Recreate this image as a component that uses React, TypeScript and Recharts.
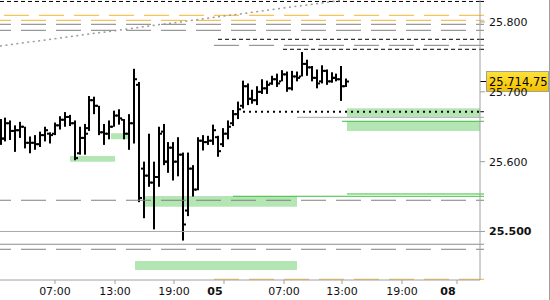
import React from "react";
import { Bar, ComposedChart, ReferenceArea, ReferenceLine, XAxis, YAxis } from "recharts";

// 30-minute bars, oldest first
const opens = [
  25645, 25633, 25655, 25644, 25645, 25650, 25627, 25627, 25625, 25638,
  25640, 25640, 25652, 25660, 25664, 25655, 25612, 25634, 25648, 25688,
  25680, 25642, 25640, 25650, 25666, 25660, 25640, 25655, 25710, 25590,
  25580, 25570, 25578, 25643, 25600, 25620, 25600, 25610, 25530, 25590,
  25560, 25630, 25628, 25630, 25635, 25625, 25640, 25655, 25668, 25680,
  25708, 25690, 25688, 25700, 25705, 25712, 25718, 25715, 25725, 25705,
  25722, 25722, 25740, 25735, 25720, 25715, 25730, 25715, 25720, 25718,
  25708,
];
const highs = [
  25661, 25663, 25659, 25652, 25657, 25650, 25636, 25638, 25643, 25650,
  25642, 25656, 25665, 25671, 25667, 25659, 25650, 25654, 25694, 25693,
  25680, 25654, 25659, 25673, 25675, 25661, 25668, 25733, 25714, 25600,
  25640, 25600, 25650, 25654, 25628, 25628, 25635, 25613, 25613, 25595,
  25635, 25638, 25637, 25653, 25637, 25648, 25659, 25674, 25686, 25716,
  25712, 25703, 25708, 25718, 25716, 25723, 25726, 25731, 25729, 25730,
  25729, 25757, 25746, 25737, 25732, 25738, 25732, 25728, 25726, 25737,
  25719,
];
const lows = [
  25624, 25629, 25631, 25614, 25634, 25619, 25612, 25617, 25621, 25629,
  25626, 25638, 25646, 25650, 25651, 25602, 25610, 25610, 25644, 25668,
  25638, 25624, 25632, 25650, 25653, 25632, 25617, 25626, 25542, 25519,
  25564, 25503, 25564, 25595, 25584, 25573, 25579, 25487, 25522, 25550,
  25559, 25616, 25624, 25624, 25607, 25621, 25632, 25651, 25661, 25676,
  25681, 25683, 25681, 25697, 25697, 25710, 25707, 25715, 25700, 25702,
  25715, 25722, 25723, 25715, 25705, 25712, 25710, 25713, 25715, 25687,
  25707,
];
const closes = [
  25633, 25655, 25644, 25645, 25650, 25627, 25627, 25625, 25638, 25645,
  25638, 25652, 25660, 25664, 25655, 25605, 25634, 25640, 25688, 25680,
  25642, 25640, 25650, 25666, 25662, 25640, 25655, 25718, 25548, 25580,
  25570, 25578, 25640, 25600, 25620, 25600, 25610, 25510, 25590, 25560,
  25630, 25628, 25630, 25645, 25615, 25640, 25650, 25668, 25675, 25708,
  25690, 25688, 25700, 25705, 25710, 25718, 25712, 25725, 25705, 25722,
  25720, 25740, 25735, 25720, 25712, 25730, 25715, 25720, 25718, 25708,
  25714.75,
];

// time axis, in bar units
const tickBars = [10.93, 23.08, 35.02, 45.14, 57.29, 69.03, 81.17, 92.3];
const tickLabels = ["07:00", "13:00", "19:00", "05", "07:00", "13:00", "19:00", "08"];
const priceTicks = [25500, 25600, 25700, 25800];

const X_MIN = -0.2;
const X_MAX = 96.96;

// horizontal levels drawn on the chart
const levelPrices = [
  25829.4, 25809.6, 25802.4, 25796.7, 25788.1, 25775.2, 25766.6, 25760.9,
  25671.5, 25663.5, 25657.8, 25553.7, 25550.4, 25544.7, 25500, 25481.7,
  25474.5, 25431.5,
];
const levelStarts = [
  X_MIN, X_MIN, X_MIN, X_MIN, X_MIN, 43.93, 43.12, 57.09,
  48.99, 59.92, 69.03, 70.04, 46.96, X_MIN, X_MIN, X_MIN,
  X_MIN, 43.12,
];
const levelKinds = [
  "black", "orangeA", "orangeB", "grayB", "grayB", "black", "grayA", "black",
  "dots", "solid", "green", "green", "green", "grayB", "solid", "solidDark",
  "grayB", "orangeA0",
];

// green zones
const zoneLows = [25664.4, 25643.9, 25600, 25632, 25535.5, 25444.9];
const zoneHighs = [25676.4, 25657.8, 25608.1, 25640.6, 25550.8, 25457.8];
const zoneStarts = [70.04, 70.04, 13.97, 22.27, 29.15, 27.13];
const zoneEnds = [X_MAX, X_MAX, 23.08, 25.91, 59.92, 59.92];

// dotted trend line
const trendStart = { bar: X_MIN, price: 25765.6 };
const trendEnd = { bar: 69.4, price: 25831.5 };

const KIND_STYLE: Record<string, { stroke: string; dash?: string; offset?: number; width?: number }> = {
  black: { stroke: "#000", dash: "4 3" },
  orangeA: { stroke: "#f2b530", dash: "25 10", offset: 31 },
  orangeA0: { stroke: "#f2b530", dash: "25 10" },
  orangeB: { stroke: "#f2b530", dash: "25 10", offset: 14 },
  grayA: { stroke: "#808080", dash: "25 10" },
  grayB: { stroke: "#808080", dash: "25 10", offset: 14 },
  dots: { stroke: "#000", dash: "2 4", width: 2 },
  solid: { stroke: "#a8a8a8" },
  solidDark: { stroke: "#8c8c8c" },
  green: { stroke: "#3cbf3c" },
};

const data = opens.map((open, i) => ({
  i,
  open,
  high: highs[i],
  low: lows[i],
  close: closes[i],
  range: [lows[i], highs[i]],
}));

const lastClose = closes[closes.length - 1];

function fmt(v: number): string {
  const [int, dec] = v.toFixed(2).split(".");
  const s = int.replace(/\B(?=(\d{3})+(?!\d))/g, ".");
  return dec === "00" ? s : `${s},${dec}`;
}

function OhlcShape(props: any) {
  const { x, y, width, height, payload } = props;
  if (x == null || y == null) return null;
  const top = Math.min(y, y + height);
  const h = Math.abs(height);
  const cx = Math.round(x + width / 2);
  const span = payload.high - payload.low || 1;
  const yAt = (v: number) => top + ((payload.high - v) / span) * h;
  return (
    <g fill="#000">
      <rect x={cx - 1} y={top} width={2} height={Math.max(h, 1)} />
      <rect x={cx - 3} y={yAt(payload.open) - 1} width={2} height={2} />
      <rect x={cx + 1} y={yAt(payload.close) - 1} width={2} height={2} />
    </g>
  );
}

function TimeTick({ x, y, payload }: any) {
  const label = tickLabels[tickBars.indexOf(payload.value)] ?? "";
  const day = label.length === 2;
  return (
    <text
      x={day ? x - 9 : x}
      y={y}
      dy="0.71em"
      textAnchor="middle"
      fontSize={11}
      fontWeight={day ? "bold" : "normal"}
      fill="#111"
    >
      {label}
    </text>
  );
}

function PriceTick({ x, y, payload }: any) {
  return (
    <text
      x={x}
      y={y}
      dy="0.355em"
      textAnchor="start"
      fontSize={11}
      fontWeight={payload.value === 25500 ? "bold" : "normal"}
      fill="#111"
    >
      {fmt(payload.value)}
    </text>
  );
}

function stubLabel(color: string) {
  return (props: any) => {
    const vb = props.viewBox;
    if (!vb) return null;
    const right = vb.x + vb.width;
    return <line x1={right} x2={right + 4} y1={vb.y} y2={vb.y} stroke={color} />;
  };
}

function PriceTag(props: any) {
  const vb = props.viewBox;
  if (!vb) return null;
  const right = vb.x + vb.width;
  const y = vb.y;
  return (
    <g>
      <line x1={right} x2={right + 7} y1={y} y2={y} stroke="#000" />
      <rect x={right + 6.5} y={y - 10} width={62} height={20} fill="url(#tagFill)" stroke="#a0a0a0" />
      <text x={right + 9} y={y} dy="0.36em" fontSize={11.5} fill="#000">
        {fmt(lastClose)}
      </text>
    </g>
  );
}

export default function App() {
  return (
    <div style={{ position: "absolute", left: 0, top: 0, width: 550, height: 300, background: "#fff" }}>
      <div style={{ position: "absolute", left: 549, top: 0, width: 1, height: 300, background: "#a0a0a0" }} />
      <ComposedChart
        width={550}
        height={300}
        data={data}
        margin={{ top: 0, right: 0, bottom: 0, left: 0 }}
        style={{ fontFamily: "DejaVu Sans" }}
      >
        <defs>
          <linearGradient id="tagFill" x1="0" y1="0" x2="0" y2="1">
            <stop offset="0%" stopColor="#ffe23a" />
            <stop offset="100%" stopColor="#f2c000" />
          </linearGradient>
        </defs>
        <XAxis
          dataKey="i"
          type="number"
          domain={[X_MIN, X_MAX]}
          allowDataOverflow
          ticks={tickBars}
          interval={0}
          height={20}
          tickSize={4}
          tickMargin={3}
          stroke="#a0a0a0"
          tick={<TimeTick />}
        />
        <YAxis
          orientation="right"
          type="number"
          domain={[25430.5, 25831.5]}
          allowDataOverflow
          ticks={priceTicks}
          interval={0}
          width={70}
          tickSize={5}
          tickMargin={4}
          stroke="#a0a0a0"
          tick={<PriceTick />}
        />
        {zoneLows.map((low, k) => (
          <ReferenceArea
            key={`z${k}`}
            x1={zoneStarts[k]}
            x2={zoneEnds[k]}
            y1={low}
            y2={zoneHighs[k]}
            fill="#b4e6b4"
            fillOpacity={1}
            stroke="none"
            ifOverflow="visible"
          />
        ))}
        {levelPrices.map((price, k) => {
          const st = KIND_STYLE[levelKinds[k]];
          return (
            <ReferenceLine
              key={`l${k}`}
              segment={[
                { x: levelStarts[k], y: price },
                { x: X_MAX, y: price },
              ]}
              stroke={st.stroke}
              strokeWidth={st.width ?? 1}
              strokeDasharray={st.dash}
              strokeDashoffset={st.offset}
              ifOverflow="visible"
              label={stubLabel(st.stroke)}
            />
          );
        })}
        <ReferenceLine
          segment={[
            { x: trendStart.bar, y: trendStart.price },
            { x: trendEnd.bar, y: trendEnd.price },
          ]}
          stroke="#9a9a9a"
          strokeWidth={1.5}
          strokeDasharray="2 3.5"
          ifOverflow="visible"
        />
        <Bar dataKey="range" barSize={4} shape={<OhlcShape />} isAnimationActive={false} />
        <ReferenceLine y={lastClose} stroke="none" ifOverflow="visible" label={PriceTag} />
      </ComposedChart>
    </div>
  );
}
